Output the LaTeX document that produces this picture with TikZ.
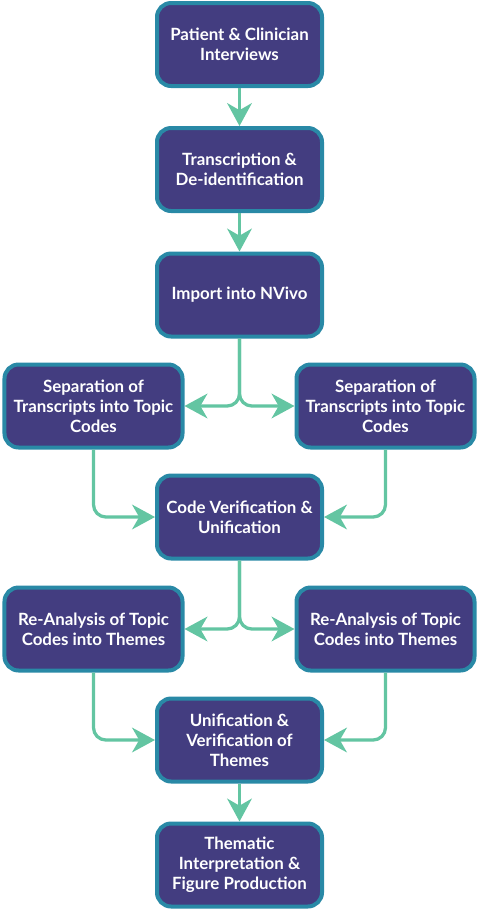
\documentclass[tikz,border=0pt]{standalone}
\usepackage{fontspec}
\setmainfont{Lato}
\usepackage{tikz}
\usetikzlibrary{arrows.meta}
\definecolor{boxfill}{RGB}{67,61,128}
\definecolor{boxline}{RGB}{41,137,166}
\definecolor{flowgreen}{RGB}{99,197,162}
\tikzstyle{stage}=[rectangle, rounded corners=8pt, fill=boxfill, draw=boxline, line width=0.08cm, text=white, font=\bfseries\fontsize{9.6}{11.4}\selectfont, align=center, minimum width=3.30cm, minimum height=1.66cm, inner sep=1pt]
\tikzstyle{stagewide}=[stage, minimum width=3.56cm]
\tikzstyle{flow}=[draw=flowgreen, line width=0.065cm, -{Stealth[length=13pt,width=14pt,inset=4pt]}]

\begin{document}
\begin{tikzpicture}
		   \useasboundingbox (0,0) rectangle (9.58,-18.2);
		   \begin{scope}
			   \node (int) at (4.79, -0.89) [stage] {Patient \& Clinician\\Interviews};
			   \node (tra) at (4.79, -3.39) [stage] {Transcription \&\\De-identification};
			   \node (imp) at (4.79, -5.90) [stage] {Import into NVivo};
			   \node (sepl) at (1.87, -8.12) [stagewide] {Separation of\\Transcripts into Topic\\Codes};
			   \node (sepr) at (7.71, -8.12) [stagewide] {Separation of\\Transcripts into Topic\\Codes};
			   \node (ver) at (4.79, -10.34) [stage] {Code Verification \&\\Unification};
			   \node (anl) at (1.87, -12.58) [stagewide] {Re-Analysis of Topic\\Codes into Themes};
			   \node (anr) at (7.71, -12.58) [stagewide] {Re-Analysis of Topic\\Codes into Themes};
			   \node (uni) at (4.79, -14.80) [stage] {Unification \&\\Verification of\\Themes};
			   \node (the) at (4.79, -17.30) [stage] {Thematic\\Interpretation \&\\Figure Production};
		   \end{scope}
		   \begin{scope}
			   \path (int) edge [flow] (tra);
			   \path (tra) edge [flow] (imp);

			   \draw [flow, rounded corners=7pt] (imp.south) |- (sepl.east);
			   \draw [flow, rounded corners=7pt] (imp.south) |- (sepr.west);

			   \draw [flow, rounded corners=7pt] (sepl.south) |- (ver.west);
			   \draw [flow, rounded corners=7pt] (sepr.south) |- (ver.east);

			   \draw [flow, rounded corners=7pt] (ver.south) |- (anl.east);
			   \draw [flow, rounded corners=7pt] (ver.south) |- (anr.west);

			   \draw [flow, rounded corners=7pt] (anl.south) |- (uni.west);
			   \draw [flow, rounded corners=7pt] (anr.south) |- (uni.east);

			   \path (uni) edge [flow] (the);
		   \end{scope}
	   \end{tikzpicture}
\end{document}
